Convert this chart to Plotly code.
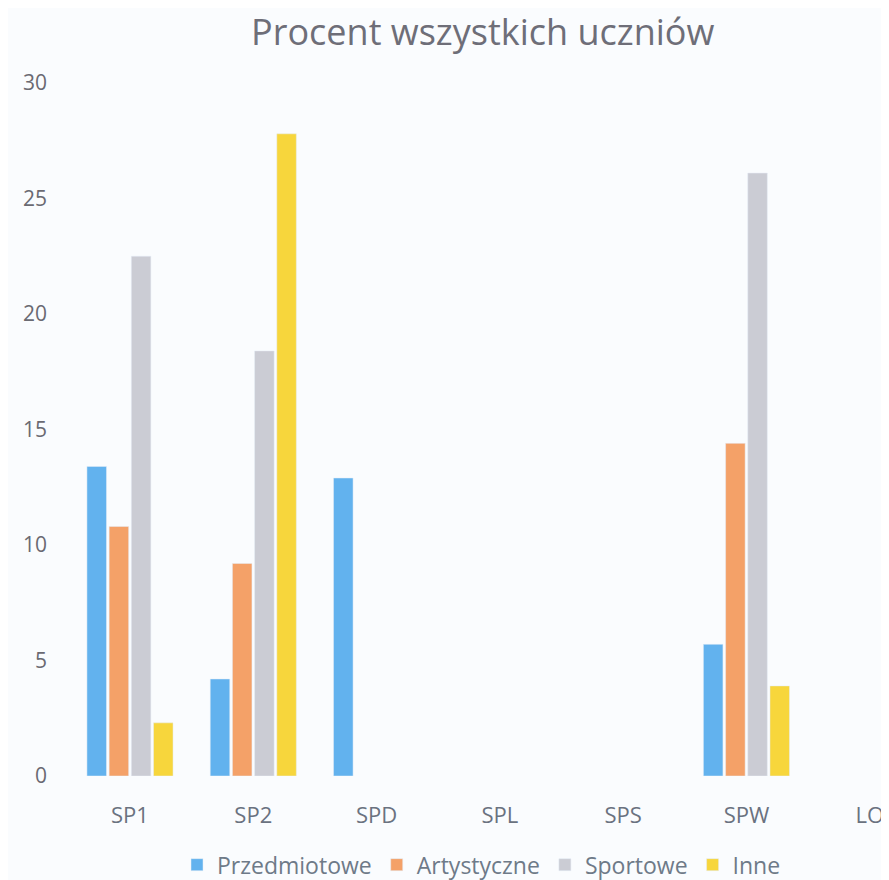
import plotly.graph_objects as go

schools = ["SP1", "SP2", "SPD", "SPL", "SPS", "SPW", "LO"]
przedmiotowe = [13.4, 4.2, 12.9, None, None, 5.7, None]
artystyczne = [10.8, 9.2, None, None, None, 14.4, None]
sportowe = [22.5, 18.4, None, None, None, 26.1, None]
inne = [2.3, 27.8, None, None, None, 3.9, None]

series = [
    ("Przedmiotowe", przedmiotowe, "#62b2ee"),
    ("Artystyczne", artystyczne, "#f4a168"),
    ("Sportowe", sportowe, "#cbccd4"),
    ("Inne", inne, "#f7d63c"),
]

fig = go.Figure()
for name, vals, color in series:
    fig.add_trace(go.Bar(x=schools, y=vals, name=name, marker_color=color))

fig.update_layout(
    width=889, height=880,
    title={"text": "Procent wszystkich uczniów", "x": 0.534, "xanchor": "center",
           "y": 0.987, "yanchor": "top",
           "font": {"size": 36, "color": "#6e6e78"}},
    font={"family": "Open Sans", "color": "#707078"},
    paper_bgcolor="#fafcfe", plot_bgcolor="rgba(0,0,0,0)",
    barmode="group", bargap=0.28, bargroupgap=0.12,
    margin={"l": 58, "r": 0, "t": 75, "b": 112},
    showlegend=True,
    legend={"orientation": "h", "x": 0.5, "xanchor": "center", "y": -0.128,
            "yanchor": "middle", "font": {"size": 23, "color": "#6e7a88"},
            "itemwidth": 30},
    xaxis={"range": [-0.519, 6.221], "showgrid": False, "showline": False,
           "tickfont": {"size": 22, "color": "#6a7280"}, "ticklen": 0,
           "ticklabelstandoff": 24},
    yaxis={"range": [0, 30], "dtick": 5, "showgrid": False, "zeroline": False,
           "tickfont": {"size": 21, "color": "#6a6a72"}, "ticks": "",
           "ticklabelstandoff": 18},
)

fig.write_html("out.html")
